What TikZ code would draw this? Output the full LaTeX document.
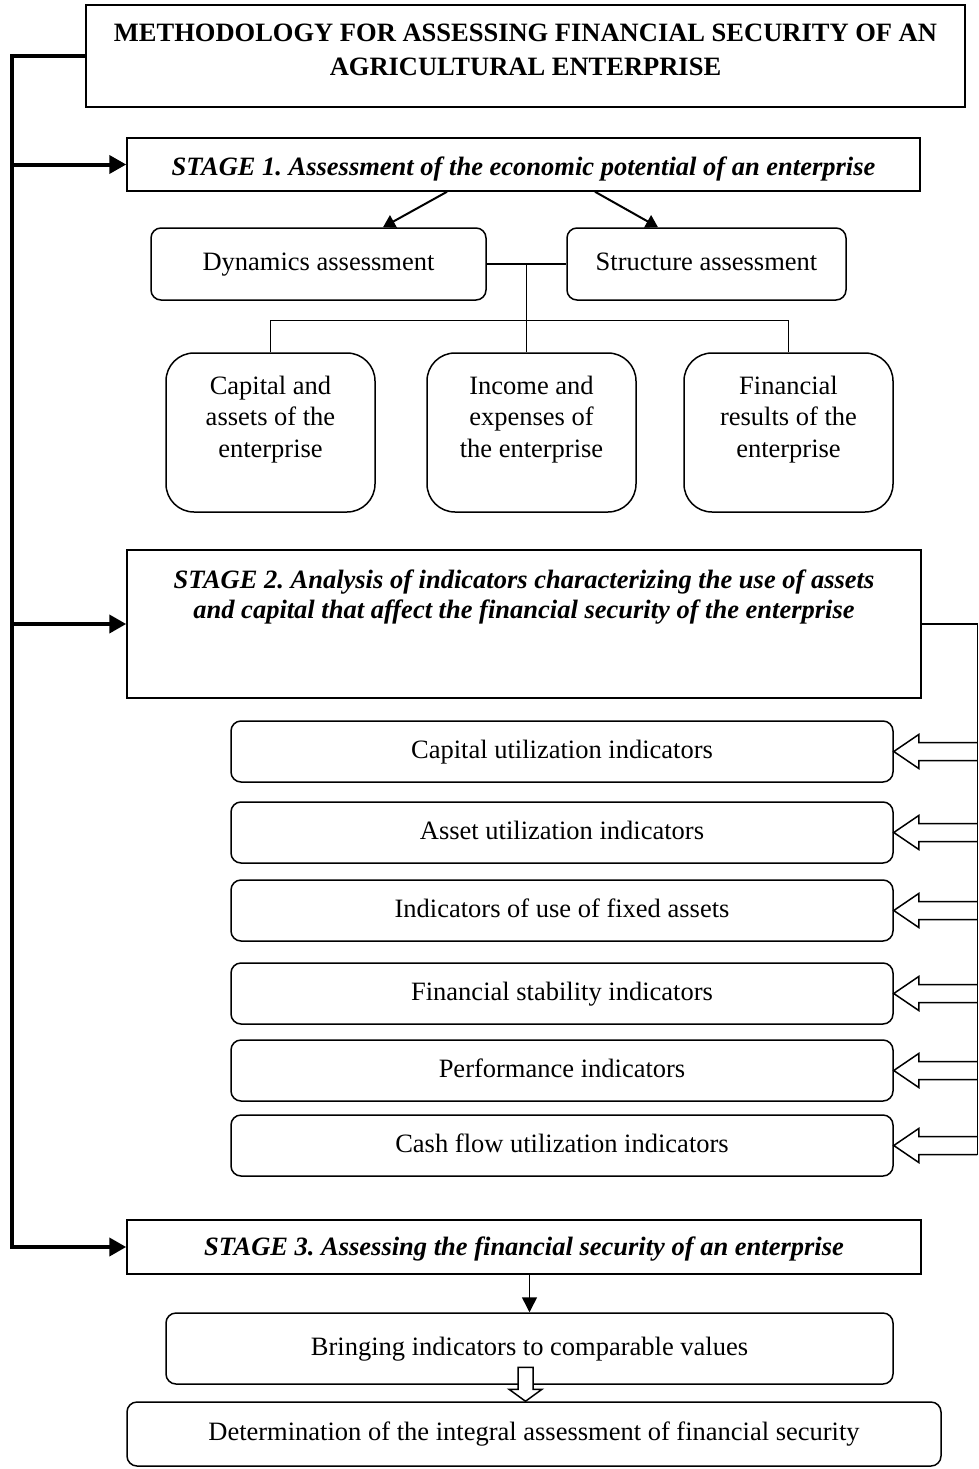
\documentclass[tikz,border=0pt]{standalone}
\usepackage{fontspec}
\setmainfont{Liberation Serif}
\usetikzlibrary{arrows.meta,calc}
\frenchspacing
\begin{document}
\begin{tikzpicture}[x=1pt,y=-1pt,
  every node/.style={inner sep=0pt, font=\fontsize{26.5}{31.5}\selectfont},
  one/.style={text height=19pt, text depth=6pt},
  sq/.style={draw, line width=1.5pt, fill=white},
  rbox/.style={draw, line width=1.5pt, rounded corners=10pt, one},
  bigr/.style={draw, line width=1.5pt, rounded corners=28pt},
  txt/.style={align=center},
  stagefont/.style={font=\fontsize{26.5}{30.5}\selectfont\bfseries\itshape},
  spine/.style={line width=4pt, line join=miter},
  sparrow/.style={line width=4pt, line join=miter, -{Triangle[length=17pt,width=18pt]}},
  thinarrow/.style={line width=2pt, -{Triangle[length=12pt,width=14pt]}},
  downarrow/.style={line width=1.5pt, -{Triangle[length=15pt,width=15pt]}},
  conn/.style={line width=1.5pt},
  hollow/.style={line width=1.5pt, line join=miter}
]
\useasboundingbox (0,0) rectangle (978,1469);

% title
\node[sq, minimum width=879pt, minimum height=102pt] (title) at (525.5,56) {};
\node[txt, font=\fontsize{26.5}{34}\selectfont\bfseries] (titletext) at (525.5,50)
  {METHODOLOGY FOR ASSESSING FINANCIAL SECURITY OF AN\\AGRICULTURAL ENTERPRISE};

% stage 1
\node[sq, stagefont, text height=23pt, text depth=2pt, minimum width=793pt, minimum height=53pt] (st1) at (523.5,164.5)
  {STAGE 1. Assessment of the economic potential of an enterprise};
\node[rbox, minimum width=335pt, minimum height=72pt] (dyn) at (318.5,264) {Dynamics assessment};
\node[rbox, minimum width=279pt, minimum height=72pt] (str) at (706.5,264) {Structure assessment};

\node[bigr, minimum width=209pt, minimum height=159pt] (cap) at (270.5,432.5) {};
\node[bigr, minimum width=209pt, minimum height=159pt] (inc) at (531.5,432.5) {};
\node[bigr, minimum width=209pt, minimum height=159pt] (fin) at (788.5,432.5) {};
\node[txt] (captext) at ($(cap.center)+(0,-13)$) {Capital and\\assets of the\\enterprise};
\node[txt] (inctext) at ($(inc.center)+(0,-13)$) {Income and\\expenses of\\the enterprise};
\node[txt] (fintext) at ($(fin.center)+(0,-13)$) {Financial\\results of the\\enterprise};

% stage 2
\node[sq, minimum width=794pt, minimum height=148pt] (st2) at (524,624) {};
\node[txt, stagefont] (st2text) at (524,597)
  {STAGE 2. Analysis of indicators characterizing the use of assets\\and capital that affect the financial security of the enterprise};

\node[rbox, minimum width=662pt, minimum height=61pt] (i1) at (562,751.5) {Capital utilization indicators};
\node[rbox, minimum width=662pt, minimum height=61pt] (i2) at (562,832.5) {Asset utilization indicators};
\node[rbox, minimum width=662pt, minimum height=61pt] (i3) at (562,910.5) {Indicators of use of fixed assets};
\node[rbox, minimum width=662pt, minimum height=61pt] (i4) at (562,993.5) {Financial stability indicators};
\node[rbox, minimum width=662pt, minimum height=61pt] (i5) at (562,1070.5) {Performance indicators};
\node[rbox, minimum width=662pt, minimum height=61pt] (i6) at (562,1145.5) {Cash flow utilization indicators};

% stage 3
\node[sq, stagefont, text height=21pt, text depth=4pt, minimum width=794pt, minimum height=54pt] (st3) at (524,1247)
  {STAGE 3. Assessing the financial security of an enterprise};
\node[rbox, minimum width=727pt, minimum height=71pt] (bring) at (529.5,1348.5) {Bringing indicators to comparable values};
\node[rbox, minimum width=814pt, minimum height=64pt] (det) at (534,1434) {Determination of the integral assessment of financial security};

% left spine
\coordinate (sp1) at (12,56);
\coordinate (sp2) at (12,1247);
\draw[sparrow] (title.west) -- (sp1) -- (sp2) -- (st3.west);
\draw[sparrow] (sp1 |- st1.west) -- (st1.west);
\draw[sparrow] (sp1 |- st2.west) -- (st2.west);

% stage 1 arrows and connectors
\draw[thinarrow] ([xshift=-76.5pt]st1.south) -- ([xshift=64.5pt]dyn.north);
\draw[thinarrow] ([xshift=71.5pt]st1.south) -- ([xshift=-48.5pt]str.north);
\draw[conn] (dyn.east) -- (str.west);
\coordinate (mid) at ($(dyn.east)!0.5!(str.west)$);
\draw[conn] (mid) -- (mid |- inc.north);
\draw[conn] (cap.north) -- ++(0,-32) -| (fin.north);

% right bracket with hollow arrows
\draw[conn] (st2.east) -| ($(i6.east)+(83.5,9)$);
\foreach \n in {i1,i2,i3,i4,i5,i6}{
  \draw[hollow] ($(\n.east)+(83.5,-9)$) -- ++(-58.5,0) -- ++(0,-8) -- (\n.east)
    -- ++(25,17) -- ++(0,-8) -- ++(58.5,0);
}

% stage 3 arrows
\draw[downarrow] (bring.north |- st3.south) -- (bring.north);
\coordinate (tip) at ([xshift=-8.5pt]det.north);
\draw[hollow, fill=white] (tip) -- ++(-16.5,-12) -- ++(9,0) -- ++(0,-22) -- ++(15,0)
  -- ++(0,22) -- ++(9,0) -- cycle;
\end{tikzpicture}
\end{document}
